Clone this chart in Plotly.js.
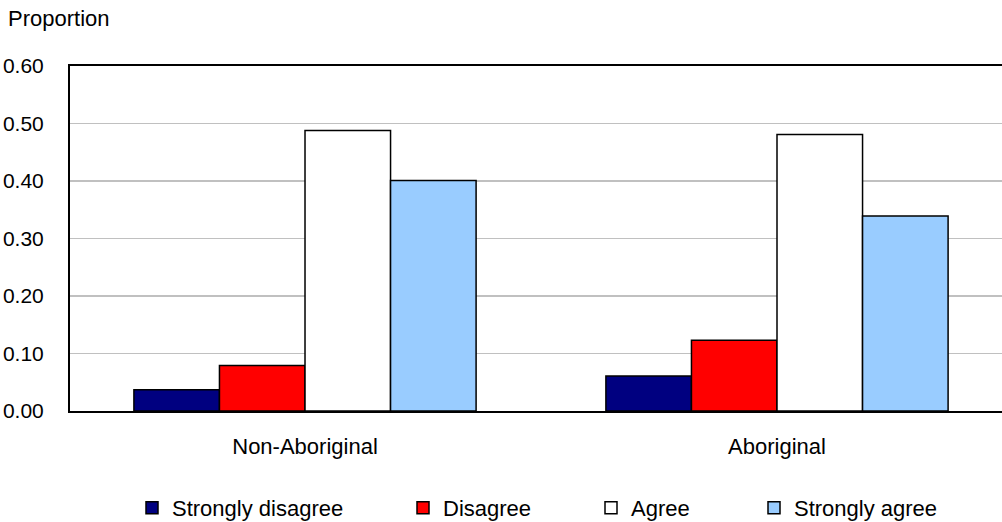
<!DOCTYPE html>
<html>
<head>
<meta charset="utf-8">
<script src="https://cdn.plot.ly/plotly-3.0.1.min.js"></script>
<style>html,body{margin:0;padding:0;background:#fff;}#chart{width:1002px;height:522px;}</style>
</head>
<body>
<div id="chart"></div>
<script>
const categories = ["Non-Aboriginal", "Aboriginal"];
const seriesNames = ["Strongly disagree", "Disagree", "Agree", "Strongly agree"];
const stronglyDisagree = [0.037, 0.061];
const disagree = [0.079, 0.123];
const agree = [0.488, 0.481];
const stronglyAgree = [0.401, 0.339];
const yTickValues = [0, 0.1, 0.2, 0.3, 0.4, 0.5, 0.6];
const yTickLabels = ["0.00", "0.10", "0.20", "0.30", "0.40", "0.50", "0.60"];

const seriesValues = [stronglyDisagree, disagree, agree, stronglyAgree];
const seriesColors = ["#000080", "#ff0000", "#ffffff", "#99ccff"];
const legendIds = ["legend", "legend2", "legend3", "legend4"];
const legendTextX = [172, 443, 631, 794];

const FONT = "'Liberation Sans', Arial, sans-serif";

const traces = seriesNames.map((name, i) => ({
  type: "bar",
  name: name,
  x: categories,
  y: seriesValues[i],
  marker: {color: seriesColors[i], line: {color: "#000000", width: 1.5}},
  legend: legendIds[i],
  hoverinfo: "x+y+name"
}));

const W = 1002, H = 522;
const layout = {
  width: W, height: H,
  margin: {l: 70, r: 0, t: 66, b: 111, pad: 0},
  paper_bgcolor: "#ffffff",
  plot_bgcolor: "#ffffff",
  font: {family: FONT, color: "#000000", size: 22},
  barmode: "group",
  bargap: 0.275,
  bargroupgap: 0,
  title: {
    text: "Proportion",
    font: {family: FONT, size: 22, color: "#000000"},
    xref: "container", x: 8 / W, xanchor: "left",
    yref: "container", y: 1 - 18 / H, yanchor: "middle"
  },
  xaxis: {
    type: "category",
    range: [-0.4979, 1.4767],
    showline: true, linecolor: "#000000", linewidth: 2, mirror: true,
    showgrid: false, zeroline: false,
    ticks: "", ticklabelstandoff: 15,
    tickfont: {family: FONT, size: 22, color: "#000000"}
  },
  yaxis: {
    range: [0, 0.6],
    tickvals: yTickValues, ticktext: yTickLabels,
    showline: true, linecolor: "#000000", linewidth: 2,
    showgrid: true, gridcolor: "#c0c0c0", gridwidth: 1.5,
    zeroline: false,
    ticks: "", ticklabelstandoff: 20,
    tickfont: {family: FONT, size: 21, color: "#000000"}
  },
  showlegend: true
};

legendIds.forEach((id, i) => {
  layout[id] = {
    orientation: "h",
    xref: "container", x: (legendTextX[i] - 40) / W, xanchor: "left",
    yref: "container", y: 1 - 508 / H, yanchor: "middle",
    font: {family: FONT, size: 22, color: "#000000"},
    bgcolor: "rgba(0,0,0,0)", borderwidth: 0,
    itemclick: false, itemdoubleclick: false
  };
});

Plotly.newPlot("chart", traces, layout, {displayModeBar: false, staticPlot: true});
</script>
</body>
</html>
